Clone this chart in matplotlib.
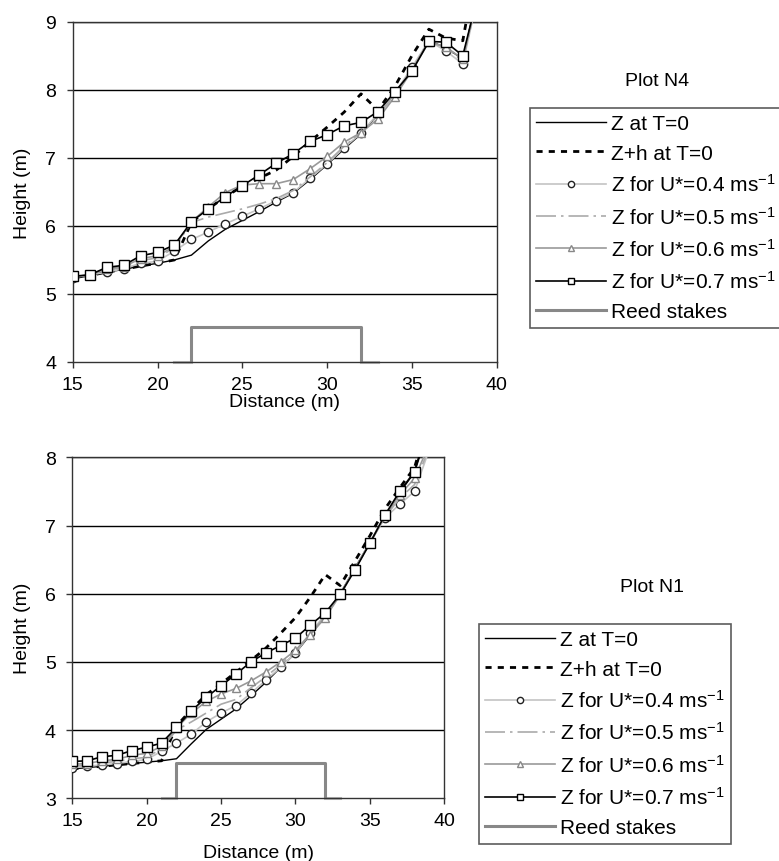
import matplotlib
matplotlib.use('Agg')
import matplotlib.pyplot as plt

plt.rcParams['font.family'] = ['Liberation Sans', 'DejaVu Sans']
plt.rcParams['mathtext.fontset'] = 'custom'
plt.rcParams['mathtext.rm'] = 'Liberation Sans'
plt.rcParams['mathtext.it'] = 'Liberation Sans'

# distance along the transect (m)
x = list(range(15, 40))

# ---- Plot N4 ----
n4_z0 = [5.22, 5.27, 5.32, 5.36, 5.41, 5.45, 5.50, 5.57, 5.78, 5.95, 6.08, 6.21, 6.35,
         6.48, 6.68, 6.90, 7.13, 7.35, 7.64, 7.95, 8.30, 8.72, 8.62, 8.45, 9.55]
n4_zh = [5.22, 5.27, 5.32, 5.36, 5.41, 5.45, 5.50, 6.05, 6.25, 6.43, 6.58, 6.70, 6.82,
         7.02, 7.24, 7.45, 7.67, 7.94, 7.70, 8.05, 8.50, 8.89, 8.76, 8.72, 10.1]
n4_u04 = [5.24, 5.28, 5.32, 5.37, 5.45, 5.48, 5.63, 5.80, 5.91, 6.03, 6.14, 6.25, 6.37,
          6.49, 6.70, 6.91, 7.15, 7.36, 7.65, 7.95, 8.33, 8.72, 8.57, 8.38, 9.5]
n4_u05 = [5.25, 5.28, 5.35, 5.39, 5.49, 5.53, 5.68, 6.05, 6.13, 6.19, 6.25, 6.32, 6.40,
          6.52, 6.72, 6.93, 7.17, 7.37, 7.62, 7.93, 8.30, 8.71, 8.62, 8.42, 9.5]
n4_u06 = [5.25, 5.28, 5.37, 5.40, 5.52, 5.56, 5.70, 6.06, 6.28, 6.49, 6.60, 6.62, 6.62,
          6.68, 6.84, 7.02, 7.23, 7.37, 7.57, 7.90, 8.28, 8.70, 8.63, 8.45, 9.5]
n4_u07 = [5.26, 5.28, 5.39, 5.42, 5.56, 5.61, 5.72, 6.06, 6.25, 6.43, 6.59, 6.75, 6.92,
          7.06, 7.24, 7.34, 7.47, 7.52, 7.68, 7.97, 8.27, 8.71, 8.70, 8.50, 9.5]
n4_reed_x = [21, 22, 22, 32, 32, 33]
n4_reed_y = [4.0, 4.0, 4.52, 4.52, 4.0, 4.0]

# ---- Plot N1 ----
n1_z0 = [3.43, 3.45, 3.47, 3.49, 3.51, 3.53, 3.55, 3.58, 3.80, 4.01, 4.16, 4.31, 4.50,
         4.70, 4.92, 5.13, 5.40, 5.68, 6.00, 6.38, 6.75, 7.12, 7.48, 7.78, 8.45]
n1_zh = [3.43, 3.45, 3.47, 3.49, 3.51, 3.53, 3.55, 4.06, 4.30, 4.52, 4.68, 4.85, 5.02,
         5.20, 5.42, 5.65, 5.95, 6.28, 6.12, 6.48, 6.85, 7.24, 7.55, 7.85, 8.6]
n1_u04 = [3.45, 3.47, 3.49, 3.51, 3.54, 3.57, 3.69, 3.81, 3.94, 4.12, 4.25, 4.36, 4.54,
          4.73, 4.92, 5.13, 5.42, 5.70, 6.00, 6.37, 6.75, 7.11, 7.31, 7.50, 8.12]
n1_u05 = [3.47, 3.49, 3.52, 3.54, 3.58, 3.60, 3.73, 4.00, 4.12, 4.25, 4.38, 4.45, 4.62,
          4.78, 4.96, 5.16, 5.42, 5.67, 5.98, 6.36, 6.74, 7.12, 7.40, 7.60, 8.15]
n1_u06 = [3.50, 3.51, 3.55, 3.57, 3.63, 3.66, 3.76, 4.03, 4.25, 4.42, 4.53, 4.61, 4.72,
          4.85, 5.00, 5.17, 5.40, 5.65, 5.98, 6.36, 6.75, 7.15, 7.45, 7.69, 8.2]
n1_u07 = [3.54, 3.55, 3.61, 3.63, 3.70, 3.75, 3.81, 4.04, 4.28, 4.48, 4.65, 4.82, 5.00,
          5.13, 5.24, 5.35, 5.54, 5.72, 5.99, 6.35, 6.74, 7.15, 7.50, 7.79, 8.55]
n1_reed_x = [21, 22, 22, 32, 32, 33]
n1_reed_y = [3.0, 3.0, 3.52, 3.52, 3.0, 3.0]

labels = ['Z at T=0', 'Z+h at T=0',
          r'Z for U*=0.4 ms$^{-1}$', r'Z for U*=0.5 ms$^{-1}$',
          r'Z for U*=0.6 ms$^{-1}$', r'Z for U*=0.7 ms$^{-1}$', 'Reed stakes']

W, H = 779, 862
fig = plt.figure(figsize=(W / 100, H / 100), dpi=100)


def draw(ax, z0, zh, u04, u05, u06, u07, rx, ry, ylim, xpad):
    ax.set_xlim(15, 40)
    ax.set_ylim(*ylim)
    for yv in range(ylim[0] + 1, ylim[1] + 1):
        ax.axhline(yv, color='black', lw=1, zorder=1)
    # light gray ends of the stakes line sit on the axis
    ax.plot(rx[:2], ry[:2], color='#bbbbbb', lw=2.2, zorder=2, clip_on=False)
    ax.plot(rx[-2:], ry[-2:], color='#bbbbbb', lw=2.2, zorder=2, clip_on=False)
    h_reed, = ax.plot(rx[1:-1], ry[1:-1], color='#888888', lw=2.2, zorder=2)
    h0, = ax.plot(x, z0, color='black', lw=1, zorder=3)
    hh, = ax.plot(x, zh, color='black', lw=2, ls=(0, (2.2, 2.2)), zorder=3)
    h4, = ax.plot(x, u04, color='#c4c4c4', lw=1.2, marker='o', ms=6,
                  mfc='white', mec='#222222', mew=1, zorder=4)
    h5, = ax.plot(x, u05, color='#aaaaaa', lw=1.2, ls=(0, (12, 3, 1.5, 3)), zorder=4)
    h6, = ax.plot(x, u06, color='#999999', lw=1.2, marker='^', ms=6,
                  mfc='white', mec='#888888', mew=1, zorder=5)
    h7, = ax.plot(x, u07, color='black', lw=1.2, marker='s', ms=6.5,
                  mfc='white', mec='black', mew=1, zorder=6)
    ax.set_xticks([15, 20, 25, 30, 35, 40])
    ax.set_yticks(range(ylim[0], ylim[1] + 1))
    ax.tick_params(direction='out', length=4, width=1, labelsize=14,
                   color='#333333')
    ax.tick_params(axis='x', pad=6)
    ax.tick_params(axis='y', pad=8)
    for s in ax.spines.values():
        s.set_color('#333333')
        s.set_linewidth(1)
    ax.set_xlabel('Distance (m)', fontsize=14, labelpad=xpad)
    ax.set_ylabel('Height (m)', fontsize=14, labelpad=10)
    return [h0, hh, h4, h5, h6, h7, h_reed]


leg_kw = dict(loc='upper left', fontsize=15, handlelength=3.35, handletextpad=0.25,
              labelspacing=0.5, borderpad=0.3, borderaxespad=0, frameon=True,
              fancybox=False, edgecolor='#333333', markerscale=0.75)

ax1 = fig.add_axes([72.7 / W, 1 - 363 / H, 424 / W, 340.3 / H])
hs = draw(ax1, n4_z0, n4_zh, n4_u04, n4_u05, n4_u06, n4_u07, n4_reed_x, n4_reed_y,
          (4, 9), 0)
fig.text(657 / W, 1 - 81 / H, 'Plot N4', fontsize=14, ha='center', va='center')
leg = fig.legend(hs, labels, bbox_to_anchor=(530 / W, 1 - 109 / H), **leg_kw)
leg.get_frame().set_linewidth(1.2)

ax2 = fig.add_axes([72.3 / W, 1 - 799.3 / H, 372 / W, 341 / H])
hs = draw(ax2, n1_z0, n1_zh, n1_u04, n1_u05, n1_u06, n1_u07, n1_reed_x, n1_reed_y,
          (3, 8), 11)
fig.text(652 / W, 1 - 588 / H, 'Plot N1', fontsize=14, ha='center', va='center')
leg = fig.legend(hs, labels, bbox_to_anchor=(479 / W, 1 - 625 / H), **leg_kw)
leg.get_frame().set_linewidth(1.2)

fig.savefig('out.png', dpi=100)
